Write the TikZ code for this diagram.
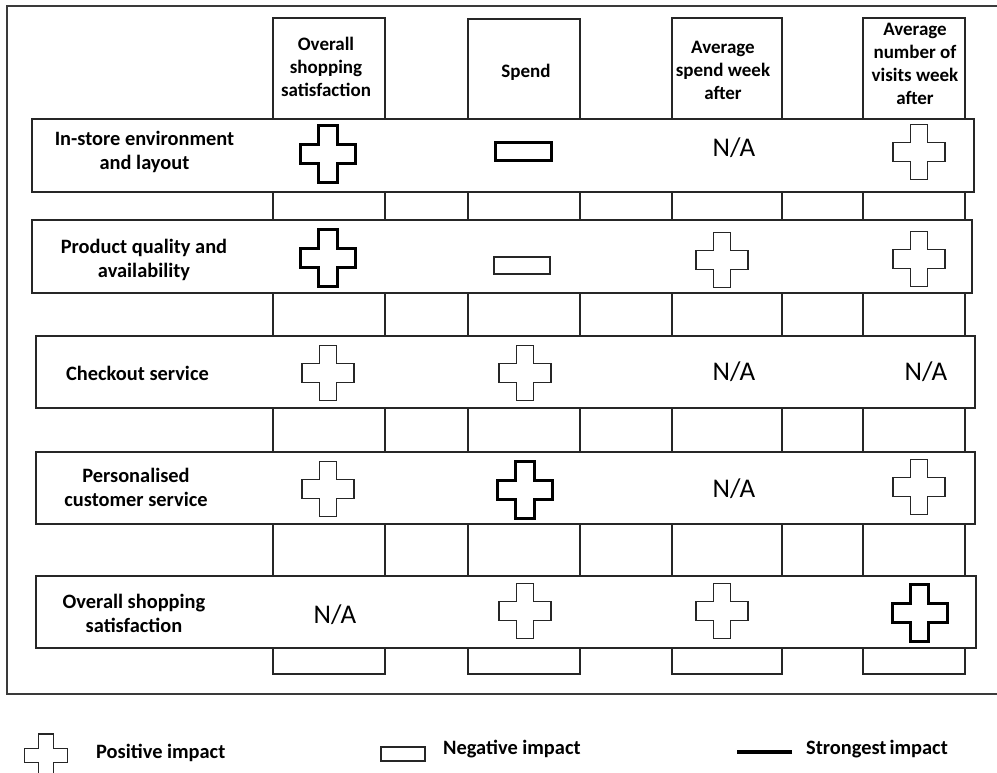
\documentclass[tikz,border=0pt]{standalone}
\usepackage{fontspec}
\setmainfont{Carlito}
\usetikzlibrary{shadows}
\definecolor{linec}{HTML}{262626}
\definecolor{framec}{HTML}{3A3A3A}
\tikzset{
  softshadow/.style={drop shadow={shadow xshift=1.2pt, shadow yshift=-1.4pt, fill=black, opacity=0.22}},
  colbox/.style={draw=linec, fill=white, line width=1.3pt, inner sep=0pt, softshadow},
  rowbox/.style={draw=linec, fill=white, line width=1.3pt, inner sep=0pt, softshadow},
  head/.style={align=center, inner sep=0pt, font=\fontsize{19}{23}\selectfont\bfseries},
  rowlabel/.style={align=center, inner sep=0pt, font=\fontsize{20.4}{24}\selectfont\bfseries},
  legtext/.style={anchor=west, inner sep=0pt, font=\fontsize{20.4}{24}\selectfont\bfseries},
  na/.style={inner sep=0pt, font=\fontsize{27}{31}\selectfont},
  pics/plus/.style={code={
    \path[pic actions] (-1/6,-1/2) -- (1/6,-1/2) -- (1/6,-1/6) -- (1/2,-1/6)
      -- (1/2,1/6) -- (1/6,1/6) -- (1/6,1/2) -- (-1/6,1/2) -- (-1/6,1/6)
      -- (-1/2,1/6) -- (-1/2,-1/6) -- (-1/6,-1/6) -- cycle;
  }},
  posthin/.style={draw=linec, fill=white, line width=1.3pt, line join=miter, softshadow, xscale=52, yscale=55},
  posbold/.style={draw=black, fill=white, line width=3pt, line join=miter, softshadow, xscale=55, yscale=57},
  poslegend/.style={draw=linec, fill=white, line width=1.3pt, line join=miter, softshadow, xscale=43, yscale=43},
  negthin/.style={draw=linec, fill=white, line width=1.3pt, inner sep=0pt, minimum width=56pt, minimum height=17pt, softshadow},
  negbold/.style={draw=black, fill=white, line width=3pt, inner sep=0pt, minimum width=56pt, minimum height=18pt, softshadow},
  neglegend/.style={draw=linec, fill=white, line width=1.3pt, inner sep=0pt, minimum width=44pt, minimum height=14pt, softshadow},
  strongline/.style={draw=black, line width=4pt, softshadow},
}
\begin{document}
\begin{tikzpicture}[x=1pt, y=-1pt]
\useasboundingbox (0,0) rectangle (997,773);
\fill[white] (0,0) rectangle (997,773);

% outer frame (its right edge runs past the page)
\draw[framec, line width=1.4pt] (997,6) -- (7,6) -- (7,694) -- (997,694);

% outcome columns
\node[colbox, minimum width=112pt, minimum height=656pt] (c1) at (329,346) {};
\node[colbox, minimum width=112pt, minimum height=655pt] (c2) at (524,346.5) {};
\node[colbox, minimum width=110pt, minimum height=656pt] (c3) at (727,346) {};
\node[colbox, minimum width=102pt, minimum height=656pt] (c4) at (914,346) {};

\node[head] (h1) at (326,67) {Overall\\shopping\\satisfaction};
\node[head] (h2) at (526,72) {Spend};
\node[head] (h3) at (723,70) {Average\\spend week\\after};
\node[head] (h4) at (915,64) {Average\\number of\\visits week\\after};

% driver rows
\node[rowbox, minimum width=942pt, minimum height=73pt] (r1) at (503,155.5) {};
\node[rowbox, minimum width=940pt, minimum height=73pt] (r2) at (502,256.5) {};
\node[rowbox, minimum width=939pt, minimum height=72pt] (r3) at (505.5,372) {};
\node[rowbox, minimum width=939pt, minimum height=72pt] (r4) at (505.5,488) {};
\node[rowbox, minimum width=940pt, minimum height=72pt] (r5) at (506,612) {};

\node[rowlabel] (l1) at (144.5,152) {In-store environment\\and layout};
\node[rowlabel] (l2) at (144,260) {Product quality and\\availability};
\node[rowlabel] (l3) at (137.5,373) {Checkout service};
\node[rowlabel] (l4) at (136,487.5) {Personalised\\customer service};
\node[rowlabel] (l5) at (134,613) {Overall shopping\\satisfaction};

% row 1
\pic[posbold] at (328,154) {plus};
\node[negbold] (m1) at (523,152) {};
\node[na] (na1) at (734,148) {N/A};
\pic[posthin] at (919,152) {plus};

% row 2
\pic[posbold] at (328,258) {plus};
\node[negthin] (m2) at (522,265.5) {};
\pic[posthin] at (722,260) {plus};
\pic[posthin] at (919,259) {plus};

% row 3
\pic[posthin] at (328,373) {plus};
\pic[posthin] at (525,373) {plus};
\node[na] (na2) at (734,372) {N/A};
\node[na] (na3) at (926,372) {N/A};

% row 4
\pic[posthin] at (328,489) {plus};
\pic[posbold] at (525,490) {plus};
\node[na] (na4) at (734,489) {N/A};
\pic[posthin] at (919,487) {plus};

% row 5
\node[na] (na5) at (335,615) {N/A};
\pic[posthin] at (525,611) {plus};
\pic[posthin] at (722,611) {plus};
\pic[posbold] at (919.5,613) {plus};

% legend
\pic[poslegend] at (46,755.5) {plus};
\node[legtext] (lg1) at (96,753) {Positive impact};
\node[neglegend] (lgn) at (403,754) {};
\node[legtext] (lg2) at (443,749) {Negative impact};
\coordinate (s1) at (737,752);
\coordinate (s2) at (792,752);
\draw[strongline] (s1) -- (s2);
\node[legtext] (lg3) at (806,749) {Strongest\hspace{0.15em}impact};
\end{tikzpicture}
\end{document}
